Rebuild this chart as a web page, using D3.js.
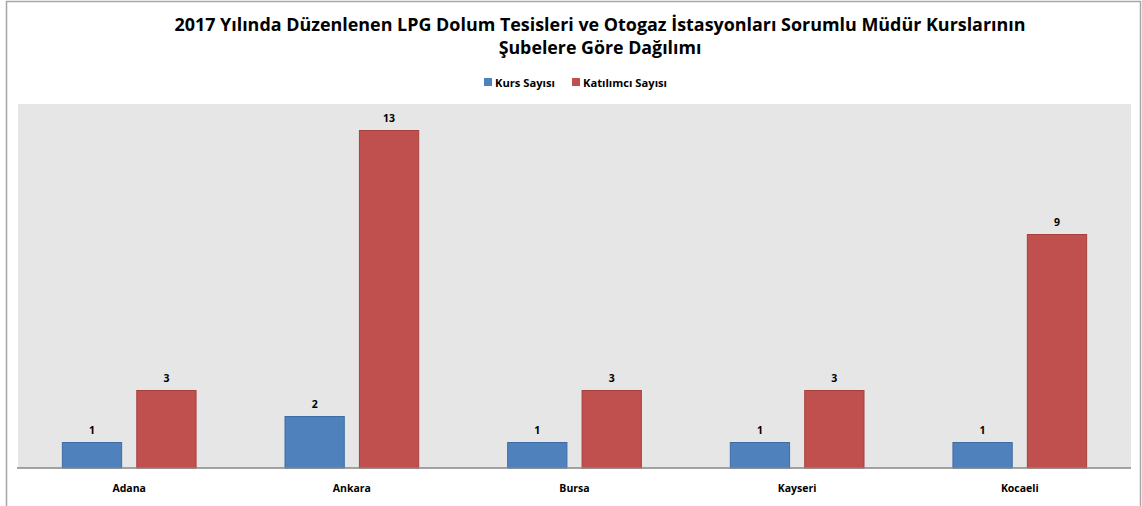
<!DOCTYPE html>
<html>
<head>
<meta charset="utf-8">
<script src="https://cdn.jsdelivr.net/npm/d3@7"></script>
<style>
  body { margin: 0; background: #fff; }
  text { font-family: "Open Sans", "DejaVu Sans", sans-serif; font-weight: bold; fill: #000; }
</style>
</head>
<body>
<svg id="chart"></svg>
<script>
const categories = ["Adana", "Ankara", "Bursa", "Kayseri", "Kocaeli"];
const seriesNames = ["Kurs Sayısı", "Katılımcı Sayısı"];
const kursSayisi = [1, 2, 1, 1, 1];
const katilimciSayisi = [3, 13, 3, 3, 9];
const titleLines = [
    "2017 Yılında Düzenlenen LPG Dolum Tesisleri ve Otogaz İstasyonları Sorumlu Müdür Kurslarının",
    "Şubelere Göre Dağılımı"
];
const colors = ["#4f81bd", "#c0504d"];
const strokes = ["#3f6da3", "#a5403d"];

const width = 1142, height = 506;
const plot = { left: 18, right: 1131, top: 104, bottom: 468 };

const svg = d3.select("#chart").attr("width", width).attr("height", height);

// outer chart border
svg.append("rect")
    .attr("x", 6.5).attr("y", 1.5)
    .attr("width", 1134).attr("height", 540)
    .attr("fill", "#fff")
    .attr("stroke", "#a6a6a6").attr("stroke-width", 1.5);

// title, shrink-to-fit the measured width from the picture
const titleWidths = [852, 203];
titleLines.forEach((t, i) => {
    const el = svg.append("text")
        .attr("x", 600).attr("y", 31 + i * 23)
        .attr("text-anchor", "middle")
        .style("font-size", "17px")
        .text(t);
    const w = el.node().getComputedTextLength();
    el.style("font-size", (17 * titleWidths[i] / w) + "px");
});

// legend
const legend = svg.append("g");
const legendX = [484, 572];
seriesNames.forEach((name, i) => {
    legend.append("rect")
        .attr("x", legendX[i]).attr("y", 78)
        .attr("width", 8).attr("height", 8)
        .attr("fill", colors[i]);
    legend.append("text")
        .attr("x", legendX[i] + 11).attr("y", 86.5)
        .style("font-size", "11.2px")
        .text(name);
});

// plot area
svg.append("rect")
    .attr("x", plot.left).attr("y", plot.top)
    .attr("width", plot.right - plot.left).attr("height", plot.bottom - plot.top)
    .attr("fill", "#e6e6e6");

const x0 = d3.scaleBand()
    .domain(categories)
    .range([plot.left, plot.right])
    .paddingInner(0.395)
    .paddingOuter(0.197);

const x1 = d3.scaleBand()
    .domain([0, 1])
    .range([0, x0.bandwidth()])
    .paddingInner(0.19);

const y = d3.scaleLinear().domain([0, 14]).range([plot.bottom, plot.top]);

const series = [kursSayisi, katilimciSayisi];

const groups = svg.append("g")
    .selectAll("g")
    .data(categories)
    .enter()
    .append("g")
    .attr("transform", d => `translate(${x0(d)},0)`);

groups.selectAll("rect")
    .data((d, ci) => series.map((s, si) => ({ si: si, v: s[ci] })))
    .enter()
    .append("rect")
    .attr("x", d => x1(d.si) + 0.5)
    .attr("y", d => y(d.v) + 0.5)
    .attr("width", x1.bandwidth() - 1)
    .attr("height", d => y(0) - y(d.v) - 0.5)
    .attr("fill", d => colors[d.si])
    .attr("stroke", d => strokes[d.si])
    .attr("stroke-width", 1);

groups.selectAll("text.val")
    .data((d, ci) => series.map((s, si) => ({ si: si, v: s[ci] })))
    .enter()
    .append("text")
    .attr("class", "val")
    .attr("x", d => x1(d.si) + x1.bandwidth() / 2)
    .attr("y", d => y(d.v) - 8)
    .attr("text-anchor", "middle")
    .style("font-size", "10.5px")
    .text(d => d.v);

// x axis
const xAxis = svg.append("g")
    .attr("transform", `translate(0,${plot.bottom})`)
    .call(d3.axisBottom(x0).tickSize(0).tickPadding(17));
xAxis.select(".domain").attr("stroke", "#868686").attr("stroke-width", 1.5)
    .attr("d", `M${plot.left - 1},0H${plot.right}`);
xAxis.selectAll("text")
    .style("font-size", "10.5px")
    .style("font-family", "'Open Sans', sans-serif")
    .style("font-weight", "bold");
</script>
</body>
</html>
